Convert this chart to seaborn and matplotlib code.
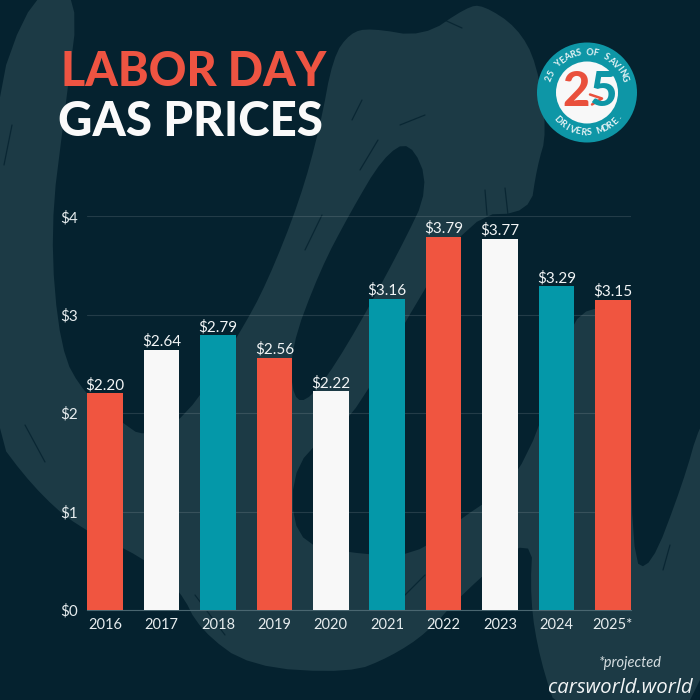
import numpy as np
import pandas as pd
import matplotlib
matplotlib.use("Agg")
import matplotlib.pyplot as plt
from matplotlib.patches import Circle, Polygon
import seaborn as sns

years = ["2016", "2017", "2018", "2019", "2020", "2021", "2022", "2023", "2024", "2025*"]
prices = [2.20, 2.64, 2.79, 2.56, 2.22, 3.16, 3.79, 3.77, 3.29, 3.15]
labels = ["$2.20", "$2.64", "$2.79", "$2.56", "$2.22", "$3.16", "$3.79", "$3.77", "$3.29", "$3.15"]
RED, WHITE, TEAL = "#F05540", "#F8F8F8", "#0498A9"
bar_colors = [RED, WHITE, TEAL, RED, WHITE, TEAL, RED, WHITE, TEAL, RED]
y_ticks = [0, 1, 2, 3, 4]
y_tick_labels = ["$0", "$1", "$2", "$3", "$4"]

BG, BRUSH = "#05222F", "#1C3A45"
sns.set_theme(style="white")
plt.rcParams["font.family"] = ["Lato", "DejaVu Sans"]

fig = plt.figure(figsize=(7, 7), dpi=100, facecolor=BG)

# background brush stroke and badge, in pixel coordinates
bg = fig.add_axes([0, 0, 1, 1], zorder=0)
bg.set_xlim(0, 700); bg.set_ylim(700, 0); bg.axis("off")
ribbon = [(-10,110),(33,-10),(80,-10),(65,110),(50,230),(60,350),(85,395),(123,423),(143,437),(185,420),
          (240,333),(267,283),(300,200),(320,127),(333,57),(350,33),(370,28),(423,37),(467,7),(483,5),
          (517,27),(537,63),(547,133),(537,167),(530,213),(470,215),(400,330),(350,423),(293,460),
          (293,540),(347,553),(415,557),(462,517),(517,483),(560,370),(577,307),(631,310),(631,560),
          (650,570),(683,483),(700,423),(720,400),(720,720),(560,720),(540,660),(530,600),(533,532),(463,593),
          (427,633),(390,657),(350,673),(250,667),(200,630),(180,590),(143,557),(77,527),(33,487),(-10,430)]
island = [(430,187),(410,140),(383,157),(350,213),(320,270),(290,350),(293,400),(310,400),(345,350),(400,250)]

def smooth(points, rounds=2):
    pts = np.array(points, float)
    for _ in range(rounds):
        nxt = np.roll(pts, -1, axis=0)
        pts = np.column_stack([0.75 * pts + 0.25 * nxt, 0.25 * pts + 0.75 * nxt]).reshape(-1, 2)
    return pts

bg.add_patch(Polygon(smooth(ribbon), closed=True, fc=BRUSH, ec="none"))
bg.add_patch(Polygon(smooth(island), closed=True, fc=BG, ec="none"))
streaks = [((15,30),(0,75)), ((12,125),(4,165)), ((352,120),(362,100)),
           ((360,170),(378,140)), ((305,250),(322,215)), ((400,125),(425,115)),
           ((25,425),(45,462)), ((440,18),(462,28)), ((485,190),(487,215)),
           ((505,188),(508,215)), ((470,400),(452,455)), ((400,600),(425,575)), ((195,595),(225,635)),
           ((660,505),(653,535)), ((670,545),(663,570))]
for p0, p1 in streaks:
    bg.plot([p0[0], p1[0]], [p0[1], p1[1]], color=BG, lw=0.9, solid_capstyle="round", alpha=0.8)

cx, cy = 587, 92.5
bg.add_patch(Circle((cx, cy), 50, fc="#0E96A6", ec="none"))
bg.add_patch(Circle((cx, cy), 31, fc="#F8F8F8", ec="none"))
bg.text(cx + 16, cy, "5", color="#0E96A6", fontsize=34, fontweight="black", ha="center", va="center")
bg.text(cx - 11, cy, "2", color="#E9503C", fontsize=34, fontweight="black", ha="center", va="center")
bg.plot([cx + 3, cx + 15, cx + 5], [cy + 2, cy + 6, cy + 12], color="#E9503C", lw=1.8)
def arc_text(s, r, a_mid, step, top=True):
    n = len(s)
    for i, ch in enumerate(s):
        d = (i - (n - 1) / 2) * step
        a = np.deg2rad(a_mid + d if top else a_mid - d)
        x, y = cx + r * np.sin(a), cy - r * np.cos(a)
        rot = -np.rad2deg(a) if top else 180 - np.rad2deg(a)
        bg.text(x, y, ch, color="#E6F3F5", fontsize=6.6, fontweight="bold",
                ha="center", va="center", rotation=rot, rotation_mode="anchor")
arc_text("25 YEARS OF SAVING", 40, 0, 8.2, True)
arc_text("DRIVERS MORE.", 40, 177, 8.3, False)

# chart
ax = fig.add_axes([87.3 / 700, (700 - 610) / 700, (630.7 - 87.3) / 700, (610 - 216.3) / 700], zorder=1)
ax.patch.set_alpha(0)
df = pd.DataFrame({"year": years, "price": prices})
sns.barplot(data=df, x="year", y="price", hue="year", palette=bar_colors, legend=False,
            width=0.633, saturation=1, ax=ax, zorder=3, edgecolor="none", linewidth=0)
ax.set_xlim(-0.3165, 9.3165)
ax.set_ylim(0, 4)
ax.set_xlabel(""); ax.set_ylabel("")
ax.set_yticks(y_ticks)
ax.set_yticklabels(y_tick_labels, color="#E6ECEE", fontsize=11)
ax.tick_params(axis="x", length=0, pad=6, labelcolor="#E6ECEE", labelsize=10.5)
ax.tick_params(axis="y", length=0, pad=7)
ax.grid(axis="y", color="white", alpha=0.12, lw=0.8, zorder=0)
ax.grid(axis="x", visible=False)
for s in ["top", "right", "left"]:
    ax.spines[s].set_visible(False)
ax.spines["bottom"].set_color("#4A6670"); ax.spines["bottom"].set_linewidth(0.8)
for i, (p, t) in enumerate(zip(prices, labels)):
    ax.annotate(t, (i, p), xytext=(0, 3), textcoords="offset points", ha="center", va="baseline",
                color="#F2F5F6", fontsize=11, zorder=5)

# titles
fig.text(61 / 700, 1 - 86 / 700, "LABOR DAY", color="#EE5442", fontsize=33.5, fontweight="black", va="baseline")
fig.text(58 / 700, 1 - 136 / 700, "GAS PRICES", color="#FAFAFA", fontsize=34.2, fontweight="black", va="baseline")
fig.text(662 / 700, 1 - 667 / 700, "*projected", color="#D5DEE1", fontsize=10.5, style="italic", ha="right", va="baseline")
fig.text(693 / 700, 1 - 693 / 700, "carsworld.world", color="#F2F5F6", fontsize=14.7, style="italic",
         family=["Open Sans", "DejaVu Sans"], ha="right", va="baseline")

fig.savefig("out.png", dpi=100, facecolor=BG)
